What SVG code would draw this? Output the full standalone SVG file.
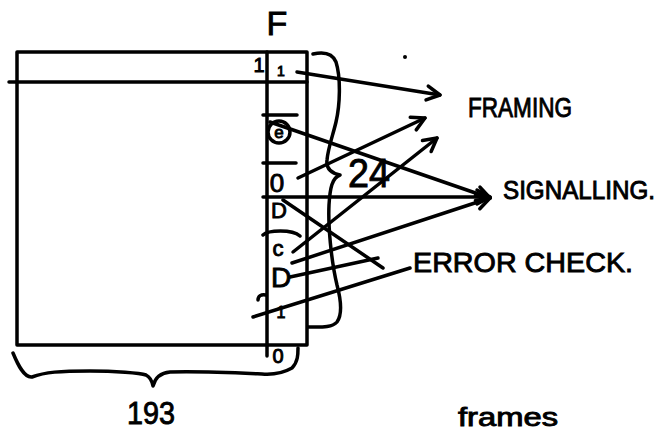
<svg xmlns="http://www.w3.org/2000/svg" width="665" height="433" viewBox="0 0 665 433">
<style>
.s{fill:none;stroke:#000;stroke-width:3.5;stroke-linecap:round;stroke-linejoin:round}
.t{font-family:"Liberation Sans","DejaVu Sans",sans-serif;fill:#000;stroke:#000;stroke-width:0.9}
.m{text-anchor:middle}
</style>
<defs>
<marker id="ah" markerUnits="userSpaceOnUse" markerWidth="24" markerHeight="24" viewBox="-16 -12 20 24" refX="0" refY="0" orient="auto" overflow="visible">
<path d="M-13,-7 L0,0 L-13,7" fill="none" stroke="#000" stroke-width="3.5" stroke-linecap="round" stroke-linejoin="round"/>
</marker>
</defs>
<rect width="665" height="433" fill="#fff"/>

<g id="frame">
<rect class="s" x="17" y="52" width="290" height="293"/>
<path class="s" d="M9,82 L307,82"/>
<path class="s" d="M267,52 L267,356"/>
</g>

<g id="f-column">
<path class="s" d="M263,115 L297,115 M263,163 L296,163 M263,235 C268,230 292,229 300,236 M258,300 C258,296 261,294 266,295"/>
<circle class="s" cx="279" cy="132" r="11"/>
<text class="t m" x="259" y="72" font-size="20">1</text>
<text class="t m" x="281" y="76" font-size="14">1</text>
<text class="t m" x="279" y="138" font-size="17">e</text>
<text class="t m" x="277" y="192" font-size="26">0</text>
<text class="t m" x="279" y="218" font-size="22">D</text>
<text class="t m" x="278" y="256" font-size="22">c</text>
<text class="t m" x="281" y="287" font-size="28">D</text>
<text class="t m" x="281" y="318" font-size="16">1</text>
<text class="t m" x="278" y="363" font-size="20">0</text>
</g>

<g id="braces">
<path class="s" d="M313,54 C322,52 332,52 336,62 C341,78 340,105 336,122 C333,135 328,148 327,160 C326,168 330,173 340,175 M340,175 C332,178 330,188 329,205 C328,225 331,260 337,285 C341,300 342,315 337,322 C332,328 320,327 308,327"/>
<path class="s" d="M13,353 C18,365 24,378 32,377 C45,372 60,371 90,371 C115,371 140,373 146,375 C150,377 152,381 153,386 C155,378 160,373 170,372 C200,371 240,373 262,374 C275,375 285,372 292,368 C298,362 298,354 298,348"/>
</g>

<g id="connectors">
<path class="s" d="M297,72 L440,95" marker-end="url(#ah)"/>
<path class="s" d="M298,178 L425,118" marker-end="url(#ah)"/>
<path class="s" d="M293,252 L437,138" marker-end="url(#ah)"/>
<path class="s" d="M270,122 L490,198" marker-end="url(#ah)"/>
<path class="s" d="M263,197 L490,197" marker-end="url(#ah)"/>
<path class="s" d="M292,263 L490,198" marker-end="url(#ah)"/>
<path class="s" d="M283,200 L383,268"/>
<path class="s" d="M290,277 L378,258"/>
<path class="s" d="M253,317 L410,268"/>
</g>

<g id="labels">
<text class="t m" x="277" y="35" font-size="34">F</text>
<circle cx="405" cy="57" r="2" fill="#000"/>
<text class="t" x="468" y="117" font-size="27" textLength="104" lengthAdjust="spacingAndGlyphs">FRAMING</text>
<text class="t" x="503" y="199" font-size="25" textLength="152" lengthAdjust="spacingAndGlyphs">SIGNALLING.</text>
<text class="t" x="413" y="272" font-size="28" textLength="220" lengthAdjust="spacingAndGlyphs">ERROR CHECK.</text>
<text class="t" x="348" y="187" font-size="40" textLength="42" lengthAdjust="spacingAndGlyphs">24</text>
<text class="t" x="127" y="424" font-size="32" textLength="48" lengthAdjust="spacingAndGlyphs">193</text>
<text class="t" x="458" y="426" font-size="26" textLength="100" lengthAdjust="spacingAndGlyphs">frames</text>
</g>
</svg>
